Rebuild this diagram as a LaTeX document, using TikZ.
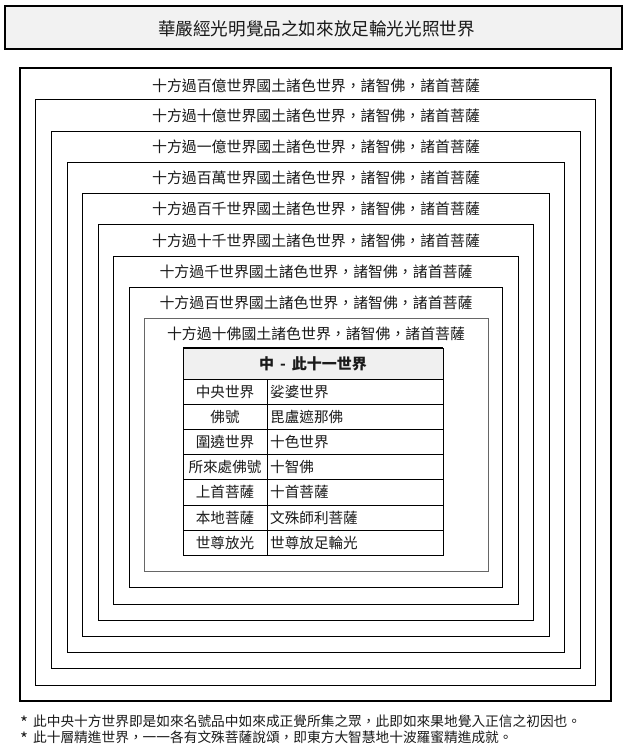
\documentclass[tikz,border=0pt]{standalone}
\usepackage{fontspec}
\setmainfont{Noto Sans CJK TC}
\definecolor{titlegray}{HTML}{F2F2F2}
\definecolor{headgray}{HTML}{F0F0F0}
\definecolor{ink}{HTML}{1A1A1A}
\newcommand{\notestar}{\raisebox{-3pt}{\fontsize{17}{17}\selectfont *}}
\tikzset{
  world/.style={draw=black, line width=0.9pt},
  worldlabel/.style={font=\fontsize{14.9}{17}\selectfont, text=ink, inner sep=0pt, anchor=center},
  cellc/.style={font=\fontsize{14.6}{17}\selectfont, text=ink, inner sep=0pt, anchor=center},
  celll/.style={font=\fontsize{14.6}{17}\selectfont, text=ink, inner sep=0pt, anchor=west},
  note/.style={font=\fontsize{13.7}{16}\selectfont, text=ink, inner sep=0pt, anchor=west},
}
\begin{document}
\begin{tikzpicture}[x=1pt,y=-1pt]
\useasboundingbox (0,0) rectangle (624,752);
% title
\draw[line width=1.8pt, fill=titlegray] (5,6) rectangle (622,49);
\node[font=\fontsize{17.6}{20}\selectfont, text=ink, inner sep=0pt] (title) at (316.5,29) {華嚴經光明覺品之如來放足輪光光照世界};
% nested worlds
\draw[world, line width=1.3pt] (20,68) rectangle (611,701);
\draw[world] (35.5,99.5) rectangle (595.5,685);
\draw[world] (51,131) rectangle (580,668);
\draw[world] (67,162) rectangle (564,652);
\draw[world] (82,193) rectangle (549,636);
\draw[world] (98,224.5) rectangle (533,620);
\draw[world] (113,256) rectangle (518,604);
\draw[world] (129,287) rectangle (502,587.5);
\draw[world, draw=black!60] (144,318) rectangle (488,571);
\node[worldlabel] (w1) at (316,86) {十方過百億世界國土諸色世界，諸智佛，諸首菩薩};
\node[worldlabel] (w2) at (316,115.5) {十方過十億世界國土諸色世界，諸智佛，諸首菩薩};
\node[worldlabel] (w3) at (316,147) {十方過一億世界國土諸色世界，諸智佛，諸首菩薩};
\node[worldlabel] (w4) at (316,178) {十方過百萬世界國土諸色世界，諸智佛，諸首菩薩};
\node[worldlabel] (w5) at (316,209) {十方過百千世界國土諸色世界，諸智佛，諸首菩薩};
\node[worldlabel] (w6) at (316,240.5) {十方過十千世界國土諸色世界，諸智佛，諸首菩薩};
\node[worldlabel] (w7) at (316,272) {十方過千世界國土諸色世界，諸智佛，諸首菩薩};
\node[worldlabel] (w8) at (316,302.5) {十方過百世界國土諸色世界，諸智佛，諸首菩薩};
\node[worldlabel] (w9) at (316,334) {十方過十佛國土諸色世界，諸智佛，諸首菩薩};
% table
\fill[headgray] (183,348) rectangle (443,379);
\draw[line width=1pt] (183,348) rectangle (443,555);
\draw[line width=1.4pt] (183,348) -- (443,348);
\foreach \yy in {379,404,429,454,479,505,530} {\draw[line width=0.8pt] (183,\yy) -- (443,\yy);}
\draw[line width=0.8pt] (267,379) -- (267,555);
\node[font=\fontsize{15}{18}\selectfont\bfseries, text=ink, inner sep=0pt] (head) at (313,364) {中 \,-\, 此十一世界};
\node[cellc] (k1) at (225,391.5) {中央世界};
\node[cellc] (k2) at (225,416.5) {佛號};
\node[cellc] (k3) at (225,441.5) {圍遶世界};
\node[cellc] (k4) at (225,466.5) {所來處佛號};
\node[cellc] (k5) at (225,492) {上首菩薩};
\node[cellc] (k6) at (225,517.5) {本地菩薩};
\node[cellc] (k7) at (225,542.5) {世尊放光};
\node[celll] (v1) at (270,391.5) {娑婆世界};
\node[celll] (v2) at (270,416.5) {毘盧遮那佛};
\node[celll] (v3) at (270,441.5) {十色世界};
\node[celll] (v4) at (270,466.5) {十智佛};
\node[celll] (v5) at (270,492) {十首菩薩};
\node[celll] (v6) at (270,517.5) {文殊師利菩薩};
\node[celll] (v7) at (270,542.5) {世尊放足輪光};
% notes
\node[note] (n1) at (20,722) {\notestar\hspace{5pt}此中央十方世界即是如來名號品中如來成正覺所集之眾，此即如來果地覺入正信之初因也。};
\node[note] (n2) at (20,738) {\notestar\hspace{5pt}此十層精進世界，一一各有文殊菩薩說頌，即東方大智慧地十波羅蜜精進成就。};
\end{tikzpicture}
\end{document}
